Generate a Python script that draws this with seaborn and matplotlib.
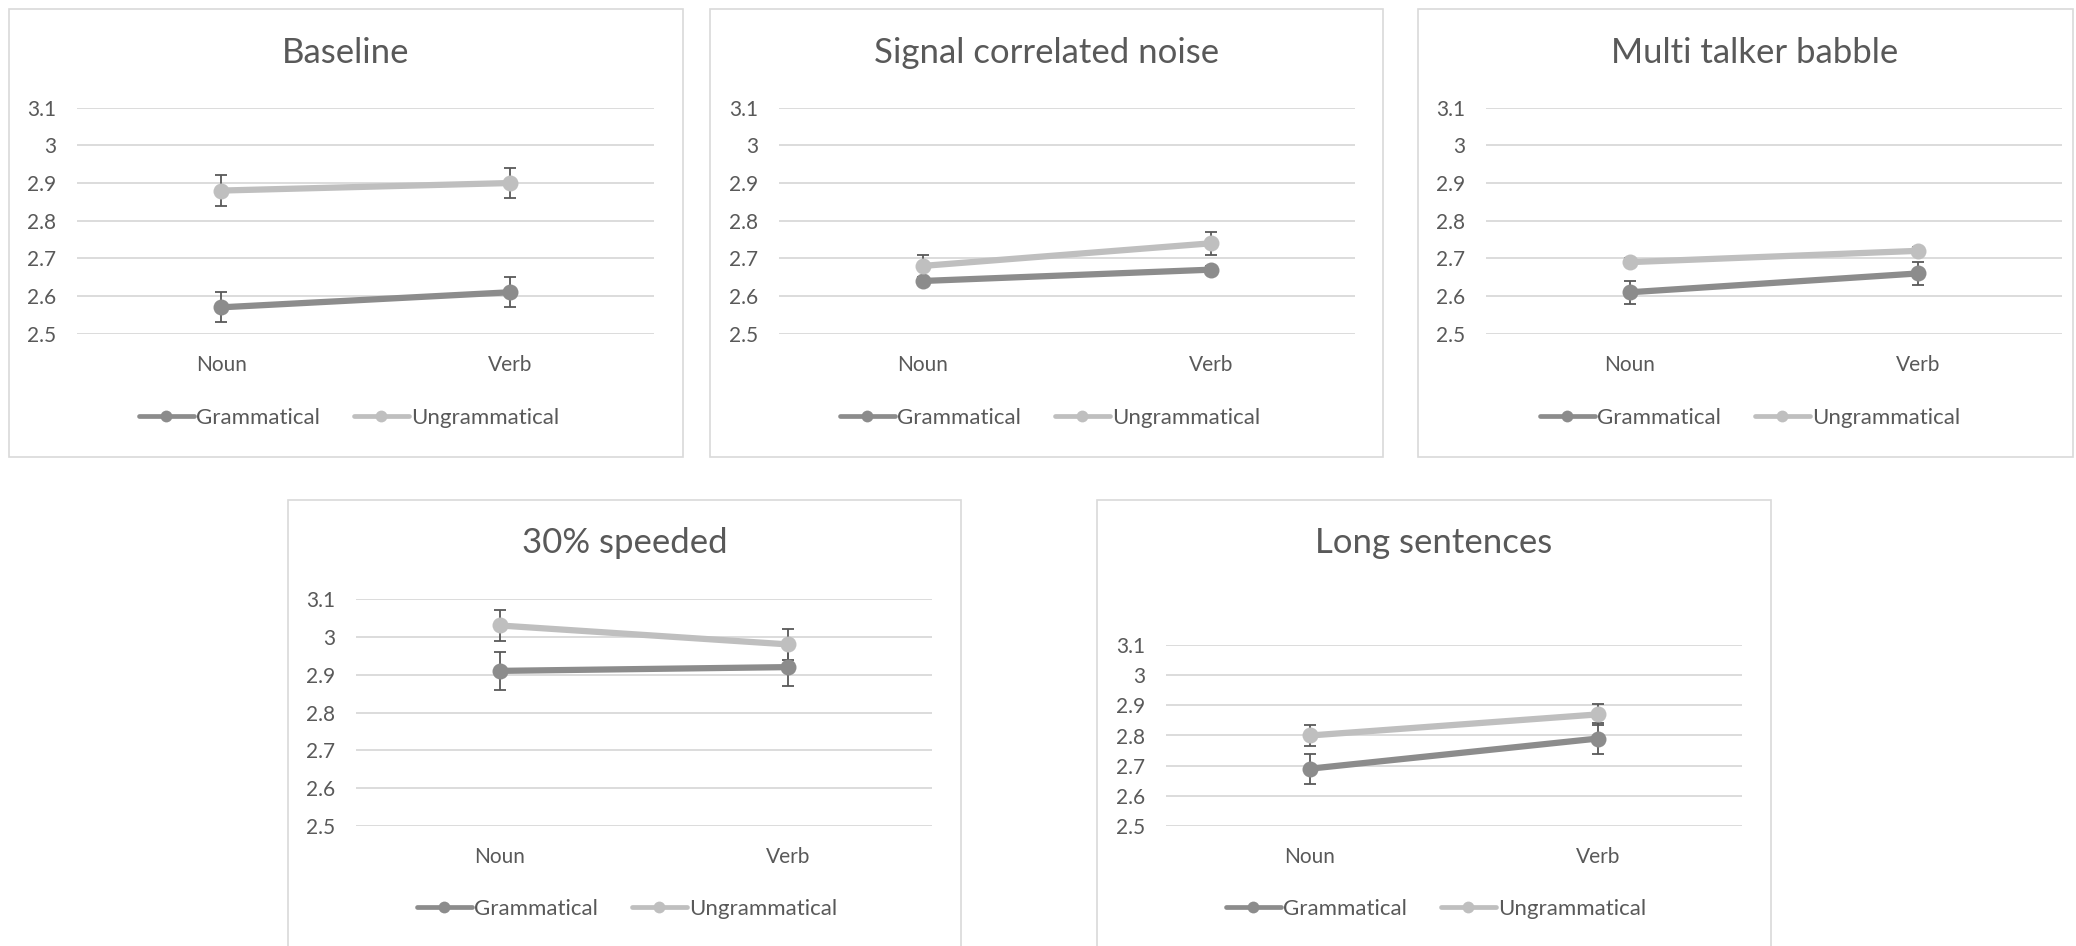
import matplotlib
matplotlib.use("Agg")
import matplotlib.pyplot as plt
import seaborn as sns
import pandas as pd
from matplotlib.lines import Line2D
from matplotlib.patches import Rectangle

# ---- data -------------------------------------------------------------
categories = ["Noun", "Verb"]
series_names = ["Grammatical", "Ungrammatical"]
panel_titles = ["Baseline", "Signal correlated noise", "Multi talker babble",
                "30% speeded", "Long sentences"]

grammatical_means = [
    [2.57, 2.61],
    [2.64, 2.67],
    [2.61, 2.66],
    [2.91, 2.92],
    [2.69, 2.79],
]
grammatical_errors = [
    [0.04, 0.04],
    [0.01, 0.01],
    [0.03, 0.03],
    [0.05, 0.05],
    [0.05, 0.05],
]
ungrammatical_means = [
    [2.88, 2.90],
    [2.68, 2.74],
    [2.69, 2.72],
    [3.03, 2.98],
    [2.80, 2.87],
]
ungrammatical_errors = [
    [0.04, 0.04],
    [0.03, 0.03],
    [0.01, 0.01],
    [0.04, 0.04],
    [0.035, 0.035],
]
y_ticks = [2.5, 2.6, 2.7, 2.8, 2.9, 3.0, 3.1]
y_tick_labels = ["2.5", "2.6", "2.7", "2.8", "2.9", "3", "3.1"]

# ---- style ------------------------------------------------------------
sns.set_theme(style="white")
plt.rcParams["font.family"] = ["Lato", "DejaVu Sans"]

TEXT = "#595959"
GRID = "#d9d9d9"
palette = {"Grammatical": "#8c8c8c", "Ungrammatical": "#bfbfbf"}
ERR = "#595959"

W, H = 2076, 946
fig = plt.figure(figsize=(W / 100, H / 100), dpi=100)
fig.patch.set_facecolor("white")

# chart frames (pixel boxes: left, top, right, bottom)
frames = [
    (9, 9, 683, 457),
    (710, 9, 1383, 457),
    (1418, 9, 2073, 457),
    (288, 500, 961, 960),
    (1097, 500, 1771, 960),
]
# plot areas (left, top, right, bottom) in pixels
plot_areas = [
    (77, 107.7, 654, 333.7),
    (779, 107.7, 1355, 333.7),
    (1486, 107.7, 2062, 333.7),
    (356, 599, 932, 826),
    (1166, 645, 1742, 826),
]
title_pos = [(346, 53), (1047, 53), (1755, 53), (625, 543), (1434, 543)]
legend_pos = [(349, 418), (1050, 418), (1750, 418), (627, 909), (1436, 909)]


def fx(px):
    return px / W


def fy(py):
    return 1 - py / H


for i in range(5):
    l, t, r, b = frames[i]
    fig.patches.append(Rectangle((fx(l), fy(b)), fx(r - l), (b - t) / H,
                                 transform=fig.transFigure, fill=False,
                                 edgecolor=GRID, linewidth=1.2, zorder=0))

    l, t, r, b = plot_areas[i]
    ax = fig.add_axes([fx(l), fy(b), fx(r - l), (b - t) / H])

    df = pd.DataFrame({
        "Category": categories * 2,
        "Rating": grammatical_means[i] + ungrammatical_means[i],
        "Error": grammatical_errors[i] + ungrammatical_errors[i],
        "Type": [series_names[0]] * 2 + [series_names[1]] * 2,
    })

    for name in series_names:
        sub = df[df["Type"] == name]
        ax.errorbar(sub["Category"], sub["Rating"], yerr=sub["Error"],
                    fmt="none", ecolor=ERR, elinewidth=1.3, capsize=4.5,
                    capthick=1.3, zorder=3)
        sns.lineplot(data=sub, x="Category", y="Rating", ax=ax,
                     color=palette[name], linewidth=4.5, marker="o",
                     markersize=11.5, markeredgewidth=0, sort=False,
                     legend=False, zorder=4)

    ax.set_xlim(-0.5, 1.5)
    ax.set_ylim(2.5, 3.1)
    ax.set_yticks(y_ticks)
    ax.set_yticklabels(y_tick_labels)
    ax.set_xlabel("")
    ax.set_ylabel("")
    ax.yaxis.grid(True, color=GRID, linewidth=1.3)
    ax.set_axisbelow(True)
    for s in ax.spines.values():
        s.set_visible(False)
    ax.tick_params(axis="y", length=0, pad=15, labelsize=15, labelcolor=TEXT)
    ax.tick_params(axis="x", length=0, pad=15, labelsize=15, labelcolor=TEXT)
    for line in ax.lines:
        line.set_clip_on(False)

    tx, ty = title_pos[i]
    fig.text(fx(tx), fy(ty), panel_titles[i], ha="center", va="center",
             fontsize=25, color=TEXT)

    handles = [Line2D([], [], color=palette[n], linewidth=3.4, marker="o",
                      markersize=8.5, markeredgewidth=0) for n in series_names]
    lx, ly = legend_pos[i]
    fig.legend(handles, series_names, loc="center",
               bbox_to_anchor=(fx(lx), fy(ly)), ncol=2, frameon=False,
               fontsize=16, labelcolor=TEXT, handlelength=2.5,
               handletextpad=0.1, columnspacing=1.5)

fig.savefig("out.png", dpi=100, facecolor="white")
